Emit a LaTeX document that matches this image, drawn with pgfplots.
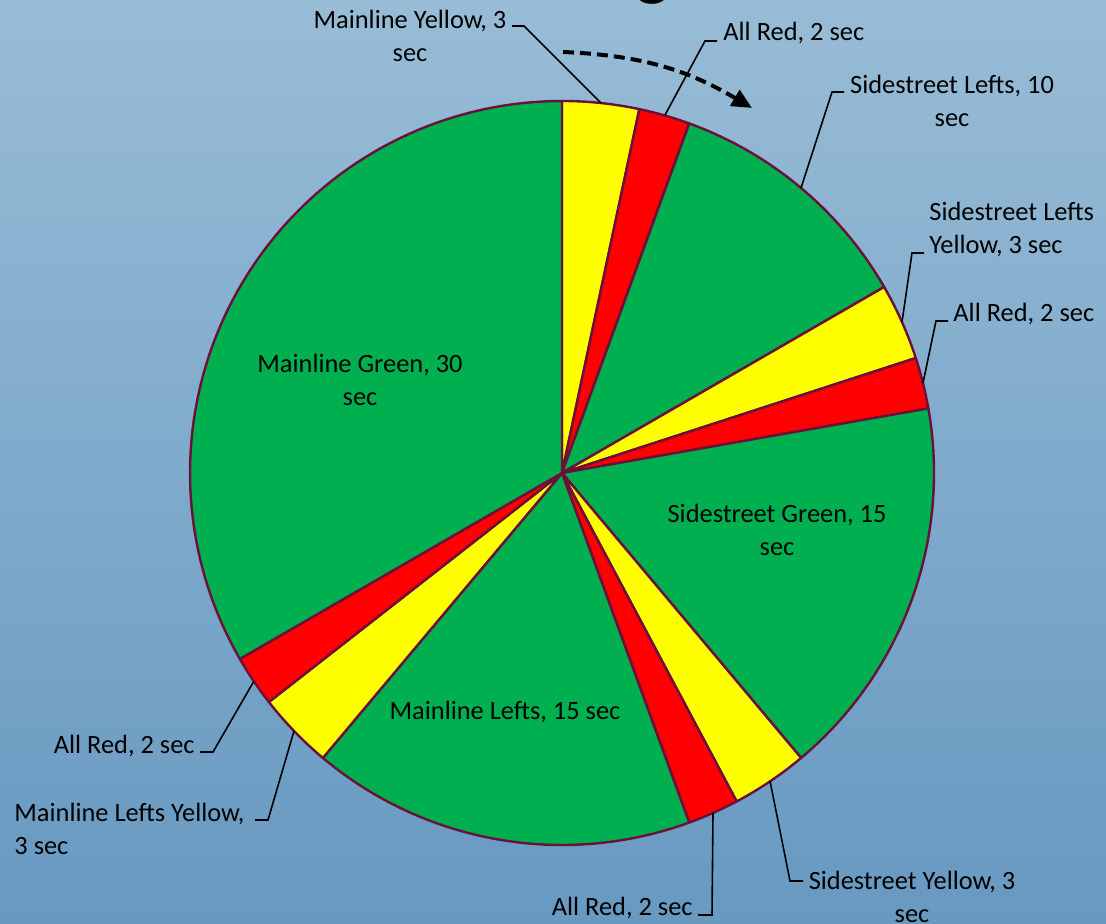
\documentclass[border=0pt]{standalone}
\usepackage{pgfplots}
\pgfplotsset{compat=1.18}
\usepackage{fontspec}
\setmainfont{Carlito}
\usetikzlibrary{arrows.meta}
\definecolor{pgreen}{RGB}{0,176,80}
\definecolor{pyellow}{RGB}{255,255,0}
\definecolor{pred}{RGB}{255,0,0}
\definecolor{pborder}{RGB}{106,16,58}
\definecolor{bgtop}{RGB}{152,188,214}
\definecolor{bgbot}{RGB}{104,153,193}

% pie: centre (562,451) and radius 372 in pixel units of the axis
\newcommand\piecum{90}
\newcommand\pietotal{90}
\newcommand\slice[2]{%
  \pgfmathsetmacro\pa{\piecum}%
  \pgfmathsetmacro\pb{\piecum-360*#1/\pietotal}%
  \edef\doit{\noexpand\addplot[fill=#2, draw=pborder, line width=1.2pt, line join=round, domain=\pb:\pa, samples=80] ({562+372*cos(x)}, {451+372*sin(x)}) -- (axis cs:562,451) -- cycle;}%
  \doit
  \xdef\piecum{\pb}%
}

\begin{document}
\begin{tikzpicture}[
  lbl/.style={font=\fontsize{13.2}{16.5}\selectfont, inner sep=0pt},
  lead/.style={black, line width=0.8pt}]
\fill[top color=bgtop, bottom color=bgbot] (0,0) rectangle (553pt,462pt);
\begin{axis}[x=0.5pt, y=0.5pt, xmin=0, xmax=1106, ymin=0, ymax=924,
  hide axis, clip=false, at={(0,0)}, anchor=south west]
% clockwise from 12 o'clock, seconds
\slice{3}{pyellow}   % Mainline Yellow
\slice{2}{pred}      % All Red
\slice{10}{pgreen}   % Sidestreet Lefts
\slice{3}{pyellow}   % Sidestreet Lefts Yellow
\slice{2}{pred}      % All Red
\slice{15}{pgreen}   % Sidestreet Green
\slice{3}{pyellow}   % Sidestreet Yellow
\slice{2}{pred}      % All Red
\slice{15}{pgreen}   % Mainline Lefts
\slice{3}{pyellow}   % Mainline Lefts Yellow
\slice{2}{pred}      % All Red
\slice{30}{pgreen}   % Mainline Green

% inside labels
\node[lbl, align=center] at (axis cs:360,544) {Mainline Green, 30\\sec};
\node[lbl, align=center] at (axis cs:777,394) {Sidestreet Green, 15\\sec};
\node[lbl, align=center] at (axis cs:505,212) {Mainline Lefts, 15 sec};

% outside labels
\node[lbl, align=center] at (axis cs:410,888) {Mainline Yellow, 3\\sec};
\draw[lead] (axis cs:512,898) -- (axis cs:524,898) -- (axis cs:601,821);
\node[lbl, anchor=west] at (axis cs:723,891) {All Red, 2 sec};
\draw[lead] (axis cs:717,883) -- (axis cs:705,883) -- (axis cs:665,809);
\node[lbl, align=center] at (axis cs:952,823) {Sidestreet Lefts, 10\\sec};
\draw[lead] (axis cs:844,832) -- (axis cs:832,832) -- (axis cs:801,736);
\node[lbl, align=left, anchor=west] at (axis cs:929,694) {Sidestreet Lefts\\Yellow, 3 sec};
\draw[lead] (axis cs:924,671) -- (axis cs:912,671) -- (axis cs:902,602);
\node[lbl, anchor=west] at (axis cs:953,610) {All Red, 2 sec};
\draw[lead] (axis cs:948,603) -- (axis cs:936,603) -- (axis cs:923,541);
\node[lbl, anchor=east] at (axis cs:693,16) {All Red, 2 sec};
\draw[lead] (axis cs:698,9) -- (axis cs:712,9) -- (axis cs:713,111);
\node[lbl, align=center] at (axis cs:912,27) {Sidestreet Yellow, 3\\sec};
\draw[lead] (axis cs:803,43) -- (axis cs:790,43) -- (axis cs:770,143);
\node[lbl, anchor=east] at (axis cs:195,178) {All Red, 2 sec};
\draw[lead] (axis cs:200,172) -- (axis cs:213,172) -- (axis cs:254,243);
\node[lbl, align=left, anchor=west] at (axis cs:14,95) {Mainline Lefts Yellow,\\3 sec};
\draw[lead] (axis cs:255,104) -- (axis cs:268,104) -- (axis cs:294,193);

% direction arrow
\draw[black, line width=2pt, dash pattern=on 5.5pt off 3pt,
  -{Triangle[length=10pt,width=9pt]}]
  (axis cs:563,872) to[bend left=14] (axis cs:752,816);

% title (mostly above the page)
\node[font=\fontsize{35}{40}\selectfont\bfseries, anchor=base east, inner sep=0pt]
  at (axis cs:670,931) {Timing};
\end{axis}
\pgfresetboundingbox
\useasboundingbox (0,0) rectangle (553pt,462pt);
\end{tikzpicture}
\end{document}
